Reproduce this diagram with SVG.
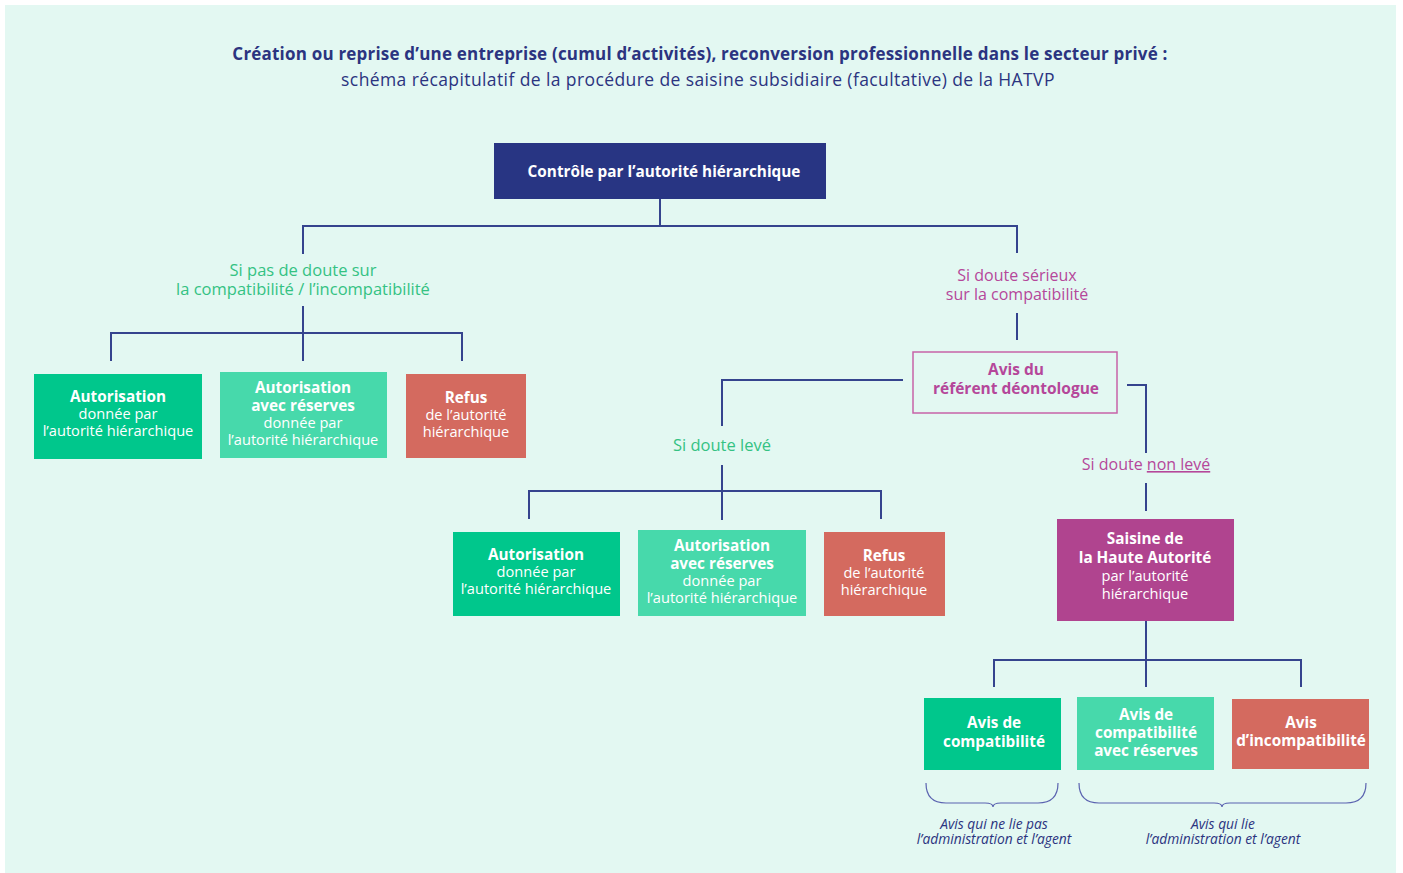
<svg xmlns="http://www.w3.org/2000/svg" width="1403" height="873" viewBox="0 0 1403 873">
<style>
text{font-family:"Open Sans","Noto Sans",sans-serif;text-anchor:middle}
.t1{font-size:17px;font-weight:700;fill:#2b3480;letter-spacing:0.2px}
.t2{font-size:17.5px;fill:#2b3480;letter-spacing:0.4px}
.w{fill:#ffffff;font-size:14.6px}
.wb{fill:#ffffff;font-size:15.3px;font-weight:700}
.g{fill:#34c283;font-size:16.5px}
.m{fill:#b5479a;font-size:16px}
.mb{fill:#b5479a;font-size:15.5px;font-weight:700}
.it{fill:#2b3480;font-size:13.8px;font-style:italic}
.ln{fill:none;stroke:#35448e;stroke-width:2}
.br{fill:none;stroke:#5b63b0;stroke-width:1.2}
.gr{fill:#00c78c}
.lg{fill:#47d9ab}
.rd{fill:#d46a5f}
</style>
<rect x="5" y="5" width="1391" height="868" fill="#e3f8f2"/>
<g id="title">
<text class="t1" x="700" y="60">Création ou reprise d’une entreprise (cumul d’activités), reconversion professionnelle dans le secteur privé :</text>
<text class="t2" x="698" y="86">schéma récapitulatif de la procédure de saisine subsidiaire (facultative) de la HATVP</text>
</g>
<g id="connectors">
<path class="ln" d="M660 199V226M303 254V226H1017V253"/>
<path class="ln" d="M303 306V361M111 361V333H462V361"/>
<path class="ln" d="M1017 313V340"/>
<path class="ln" d="M903 380H722V426"/>
<path class="ln" d="M722 465V520M529 519V491H881V519"/>
<path class="ln" d="M1127 385H1146V453"/>
<path class="ln" d="M1146 483V511"/>
<path class="ln" d="M1146 621V687M994 687V660H1301V687"/>
<path class="br" d="M926 783Q926 803 946 803H985Q993 803 993 807Q993 803 1001 803H1038Q1058 803 1058 783"/>
<path class="br" d="M1079 783Q1079 803 1099 803H1214Q1222 803 1222 807Q1222 803 1230 803H1346Q1366 803 1366 783"/>
</g>
<g id="n-controle">
<rect x="494" y="143" width="332" height="56" fill="#283583"/>
<text class="wb" x="664" y="177">Contrôle par l’autorité hiérarchique</text>
</g>
<g id="l-pasdoute">
<text class="g" x="303" y="276">Si pas de doute sur</text>
<text class="g" x="303" y="295">la compatibilité / l’incompatibilité</text>
</g>
<g id="n-a1">
<rect class="gr" x="34" y="374" width="168" height="85"/>
<text class="wb" x="118" y="402">Autorisation</text>
<text class="w" x="118" y="419">donnée par</text>
<text class="w" x="118" y="436">l’autorité hiérarchique</text>
</g>
<g id="n-a2">
<rect class="lg" x="220" y="372" width="167" height="86"/>
<text class="wb" x="303" y="393">Autorisation</text>
<text class="wb" x="303" y="411">avec réserves</text>
<text class="w" x="303" y="428">donnée par</text>
<text class="w" x="303" y="445">l’autorité hiérarchique</text>
</g>
<g id="n-a3">
<rect class="rd" x="406" y="374" width="120" height="84"/>
<text class="wb" x="466" y="403">Refus</text>
<text class="w" x="466" y="420">de l’autorité</text>
<text class="w" x="466" y="437">hiérarchique</text>
</g>
<g id="l-serieux">
<text class="m" x="1017" y="281">Si doute sérieux</text>
<text class="m" x="1017" y="300">sur la compatibilité</text>
</g>
<g id="n-referent">
<rect x="913" y="352" width="204" height="61" fill="none" stroke="#c763a8" stroke-width="1.5"/>
<text class="mb" x="1016" y="375">Avis du</text>
<text class="mb" x="1016" y="394">référent déontologue</text>
</g>
<g id="l-leve">
<text class="g" x="722" y="451">Si doute levé</text>
</g>
<g id="n-b1">
<rect class="gr" x="453" y="532" width="167" height="84"/>
<text class="wb" x="536" y="560">Autorisation</text>
<text class="w" x="536" y="577">donnée par</text>
<text class="w" x="536" y="594">l’autorité hiérarchique</text>
</g>
<g id="n-b2">
<rect class="lg" x="638" y="530" width="168" height="86"/>
<text class="wb" x="722" y="551">Autorisation</text>
<text class="wb" x="722" y="569">avec réserves</text>
<text class="w" x="722" y="586">donnée par</text>
<text class="w" x="722" y="603">l’autorité hiérarchique</text>
</g>
<g id="n-b3">
<rect class="rd" x="824" y="532" width="121" height="84"/>
<text class="wb" x="884" y="561">Refus</text>
<text class="w" x="884" y="578">de l’autorité</text>
<text class="w" x="884" y="595">hiérarchique</text>
</g>
<g id="l-nonleve">
<text class="m" x="1146" y="470">Si doute <tspan text-decoration="underline">non levé</tspan></text>
</g>
<g id="n-saisine">
<rect x="1057" y="519" width="177" height="102" fill="#b0448f"/>
<text class="wb" x="1145" y="544">Saisine de</text>
<text class="wb" x="1145" y="563">la Haute Autorité</text>
<text class="w" x="1145" y="581">par l’autorité</text>
<text class="w" x="1145" y="599">hiérarchique</text>
</g>
<g id="n-c1">
<rect class="gr" x="924" y="698" width="137" height="72"/>
<text class="wb" x="994" y="728">Avis de</text>
<text class="wb" x="994" y="747">compatibilité</text>
</g>
<g id="n-c2">
<rect class="lg" x="1077" y="697" width="137" height="73"/>
<text class="wb" x="1146" y="720">Avis de</text>
<text class="wb" x="1146" y="738">compatibilité</text>
<text class="wb" x="1146" y="756">avec réserves</text>
</g>
<g id="n-c3">
<rect class="rd" x="1232" y="699" width="137" height="70"/>
<text class="wb" x="1301" y="728">Avis</text>
<text class="wb" x="1301" y="746">d’incompatibilité</text>
</g>
<g id="l-brace">
<text class="it" x="994" y="829">Avis qui ne lie pas</text>
<text class="it" x="994" y="844">l’administration et l’agent</text>
<text class="it" x="1223" y="829">Avis qui lie</text>
<text class="it" x="1223" y="844">l’administration et l’agent</text>
</g>
</svg>
